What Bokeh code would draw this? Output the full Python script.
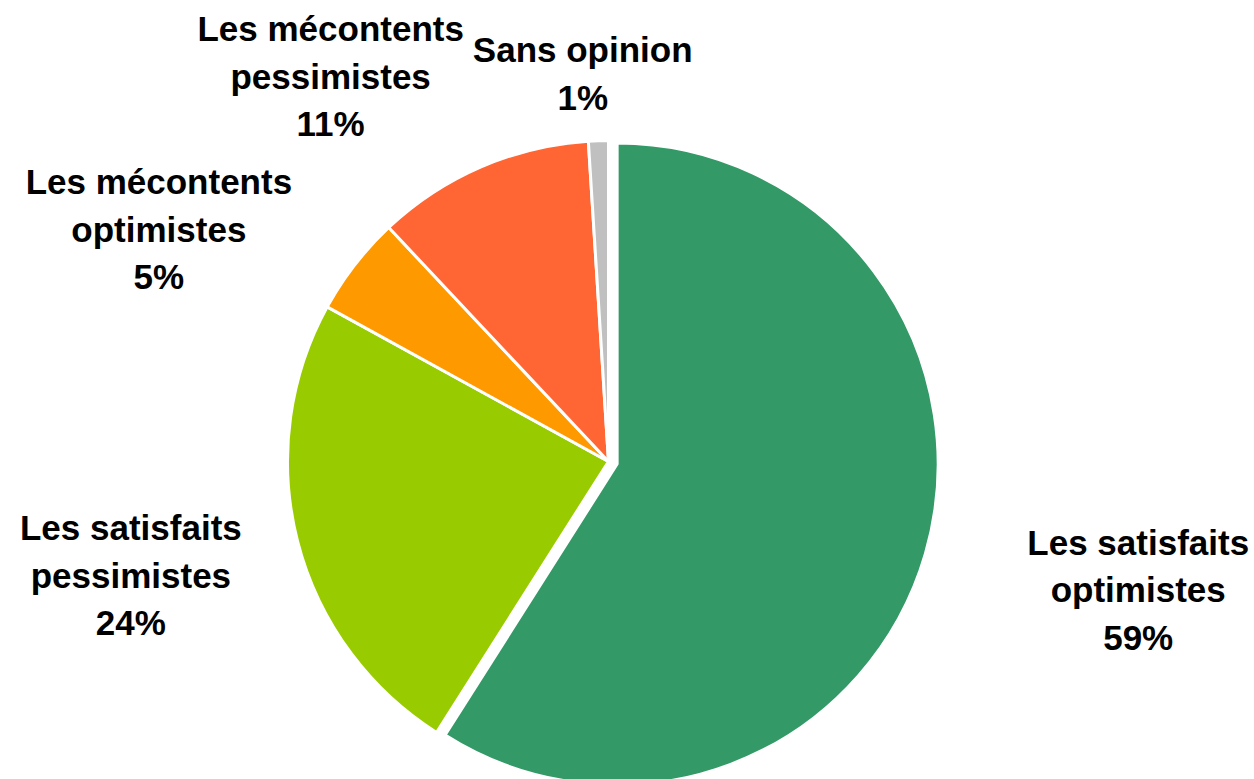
import math
from bokeh.plotting import figure
from bokeh.models import ColumnDataSource, Range1d
from bokeh.core.properties import value
from bokeh.embed import file_html
from bokeh.resources import INLINE

# ---- data ----
categories = ["Les satisfaits\noptimistes", "Les satisfaits\npessimistes",
              "Les mécontents\noptimistes", "Les mécontents\npessimistes",
              "Sans opinion"]
percents = [59, 24, 5, 11, 1]
colors = ["#339966", "#99CC00", "#FF9900", "#FF6633", "#C0C0C0"]

# ---- layout ----
W, H = 1254, 779
CX, CY = 608, H - 461          # pie centre (data coords, y up)
R = 321
explode = [9, 0, 0, 0, 0]
# label placement: angle clockwise from 12 o'clock (deg), distance from centre (px)
label_angle = [103.6, 256.6, 297.3, 324.2, 356.2]
label_dist = [545, 491, 506, 475, 389]

total = sum(percents)
xs, ys, starts, ends = [], [], [], []
cum = 0.0
for v, e in zip(percents, explode):
    c0 = cum / total
    cum += v
    c1 = cum / total
    s = math.pi / 2 - 2 * math.pi * c0
    en = math.pi / 2 - 2 * math.pi * c1
    mid = (s + en) / 2
    xs.append(CX + e * math.cos(mid))
    ys.append(CY + e * math.sin(mid))
    starts.append(s)
    ends.append(en)

src = ColumnDataSource(dict(x=xs, y=ys, start=starts, end=ends, color=colors))

lx, ly, ltxt = [], [], []
for cat, v, a, d in zip(categories, percents, label_angle, label_dist):
    th = math.radians(a)
    lx.append(CX + d * math.sin(th))
    ly.append(CY + d * math.cos(th))
    ltxt.append(f"{cat}\n{v}%")
lsrc = ColumnDataSource(dict(x=lx, y=ly, text=ltxt))

p = figure(width=W, height=H, x_range=Range1d(0, W), y_range=Range1d(0, H),
           output_backend="svg", toolbar_location=None, min_border=0,
           x_axis_location=None, y_axis_location=None)
p.grid.visible = False
p.outline_line_color = None
p.background_fill_color = "white"
p.border_fill_color = "white"

p.wedge(x="x", y="y", radius=R, start_angle="start", end_angle="end",
        direction="clock", fill_color="color", line_color="white",
        line_width=3, source=src)

p.text(x="x", y="y", text="text", source=lsrc, text_align="center",
       text_baseline="middle", text_font=value("Liberation Sans"),
       text_font_style="bold", text_font_size="35px", text_color="black",
       text_line_height=1.22)

open("out.html", "w").write(file_html(p, INLINE))
